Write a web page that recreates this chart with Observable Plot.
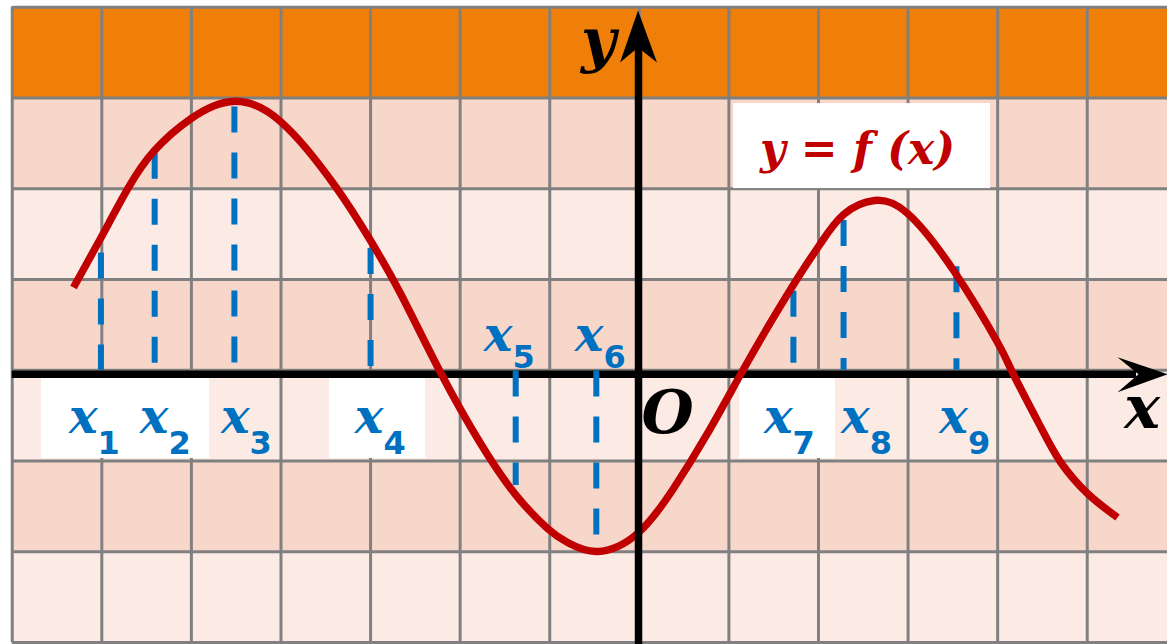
<!DOCTYPE html>
<html>
<head>
<meta charset="utf-8">
<script src="https://cdn.jsdelivr.net/npm/d3@7"></script>
<script src="https://cdn.jsdelivr.net/npm/@observablehq/plot@0.6"></script>
<style>
  html, body { margin: 0; padding: 0; background: #ffffff; }
  #chart svg { display: block; }
</style>
</head>
<body>
<div id="chart"></div>
<script>
// ---- domain (data units of the drawing) ----
const xDomain = [-7.131, 5.896];
const yDomain = [-3.022, 4.073];

// ---- grid ----
const gridX = [-7, -6, -5, -4, -3, -2, -1, 0, 1, 2, 3, 4, 5];
const gridY = [-3, -2, -1, 0, 1, 2, 3, 4];
const bandBottom = [-3, -2, -1, 0, 1, 2, 3];
const bandKind = ["light", "dark", "light", "dark", "light", "dark", "top"];

// ---- curve y = f(x) ----
const curveX = [-6.316, -6.014, -5.702, -5.412, -5.000, -4.542, -4.006, -3.392, -3.001, -2.666, -2.219,
                -1.772, -1.382, -1.025, -0.801, -0.466, -0.020, 0.382, 0.761, 1.130, 1.465, 1.800,
                2.023, 2.280, 2.625, 2.995, 3.508, 3.999, 4.177, 4.501, 4.713, 5.003, 5.338];
const curveY = [0.911, 1.451, 2.013, 2.421, 2.775, 2.961, 2.740, 2.024, 1.429, 0.845, -0.025,
                -0.808, -1.370, -1.744, -1.898, -1.997, -1.799, -1.303, -0.697, -0.047, 0.526, 1.065,
                1.396, 1.715, 1.870, 1.727, 1.098, 0.305, -0.047, -0.664, -1.028, -1.359, -1.623];

// ---- marked points x1..x9 ----
const markerName = ["1", "2", "3", "4", "5", "6", "7", "8", "9"];
const markerX = [-6.01, -5.41, -4.52, -3.00, -1.38, -0.48, 1.72, 2.28, 3.54];
const markerTop = [1.29, 2.39, 2.90, 1.34, -0.01, -0.01, 0.87, 1.65, 1.14];
const markerBottom = [0.00, 0.00, 0.00, 0.00, -1.27, -1.88, 0.00, 0.00, 0.00];
const labelX = [-6.048, -5.256, -4.351, -2.856, -1.416, -0.400, 1.711, 2.571, 3.669];
const labelBase = [-0.697, -0.697, -0.697, -0.697, 0.217, 0.217, -0.697, -0.697, -0.697];
const subBase = [-0.918, -0.918, -0.918, -0.918, 0.019, 0.019, -0.918, -0.918, -0.918];

// ---- white label boxes ----
const boxX1 = [-6.673, -3.458, 1.119, 1.052];
const boxX2 = [-4.798, -2.387, 2.190, 3.921];
const boxY1 = [-0.091, -0.091, -0.091, 2.937];
const boxY2 = [-0.973, -0.973, -0.973, 2.001];

// ---- axis texts ----
const axisText = ["y", "x", "O"];
const axisTextX = [-0.455, 5.612, 0.315];
const axisTextY = [3.401, -0.642, -0.697];
const funcLabel = ["y = f (x)"];
const funcLabelX = [2.436];
const funcLabelY = [2.277];

// ---- colours ----
const bandColor = {top: "#F07F0A", dark: "#F8D7CB", light: "#FBEBE4"};
const red = "#C00000";
const blue = "#0070C0";

// tables
const bands = bandBottom.map((b, i) => ({y1: b, y2: b + 1, kind: bandKind[i]}));
const curve = curveX.map((x, i) => ({x, y: curveY[i]}));
const markers = markerName.map((n, i) => ({n, x: markerX[i], top: markerTop[i], bottom: markerBottom[i],
  lx: labelX[i], ly: labelBase[i], sy: subBase[i]}));
const boxes = boxX1.map((x1, i) => ({x1, x2: boxX2[i], y1: boxY1[i], y2: boxY2[i]}));
const axisLabels = axisText.map((t, i) => ({t, x: axisTextX[i], y: axisTextY[i]}));
const funcLabels = funcLabel.map((t, i) => ({t, x: funcLabelX[i], y: funcLabelY[i]}));

// arrowheads as custom symbols (pixel geometry)
const arrowRight = {draw(ctx) { ctx.moveTo(0, 0); ctx.lineTo(-50, -17); ctx.lineTo(-29, 0); ctx.lineTo(-50, 18); ctx.closePath(); }};
const arrowUp = {draw(ctx) { ctx.moveTo(0, 0); ctx.lineTo(-18, 52); ctx.lineTo(0, 37); ctx.lineTo(19, 52); ctx.closePath(); }};

const serif = "'DejaVu Serif', 'Liberation Serif', serif";
const sans = "'DejaVu Sans', 'Liberation Sans', sans-serif";

const chart = Plot.plot({
  width: 1167,
  height: 644,
  margin: 0,
  style: {background: "#ffffff", overflow: "visible"},
  x: {domain: xDomain, axis: null},
  y: {domain: yDomain, axis: null},
  marks: [
    Plot.rect(bands, {x1: -7, x2: xDomain[1], y1: "y1", y2: "y2", fill: d => bandColor[d.kind]}),
    Plot.ruleX(gridX, {y1: -3, y2: 4, stroke: "#808080", strokeWidth: 3}),
    Plot.ruleY(gridY, {x1: -7, x2: xDomain[1], stroke: "#808080", strokeWidth: 3}),
    Plot.rect(boxes, {x1: "x1", x2: "x2", y1: "y1", y2: "y2", fill: "#ffffff"}),
    Plot.ruleY([0], {x1: -7, x2: 5.55, stroke: "black", strokeWidth: 7.5, dy: 4}),
    Plot.dot([[xDomain[1], 0]], {symbol: arrowRight, r: 10, fill: "black", stroke: "none", dy: 4}),
    Plot.ruleX(markers, {x: "x", y1: "top", y2: "bottom", stroke: blue, strokeWidth: 6, strokeDasharray: "26,20"}),
    Plot.line(curve, {x: "x", y: "y", curve: "natural", stroke: red, strokeWidth: 7.5, strokeLinecap: "butt"}),
    Plot.ruleX([0], {y1: yDomain[0], y2: 3.6, stroke: "black", strokeWidth: 7.5, dx: -0.8}),
    Plot.dot([[0, 3.963]], {symbol: arrowUp, r: 10, fill: "black", stroke: "none", dx: -1.3}),
    Plot.text(markers, {x: "lx", y: "ly", text: () => "x", textAnchor: "end", lineAnchor: "bottom",
      fill: blue, fontSize: 48, fontWeight: "bold", fontStyle: "italic", fontFamily: serif}),
    Plot.text(markers, {x: "lx", y: "sy", text: "n", textAnchor: "start", lineAnchor: "bottom",
      fill: blue, fontSize: 32, fontWeight: "bold", fontFamily: sans}),
    Plot.text(axisLabels, {x: "x", y: "y", text: "t", textAnchor: "middle", lineAnchor: "bottom",
      fill: "black", fontSize: 60, fontWeight: "bold", fontStyle: "italic", fontFamily: serif}),
    Plot.text(funcLabels, {x: "x", y: "y", text: "t", textAnchor: "middle", lineAnchor: "bottom",
      fill: red, fontSize: 44, fontWeight: "bold", fontStyle: "italic", fontFamily: serif})
  ]
});
document.getElementById("chart").appendChild(chart);
</script>
</body>
</html>
